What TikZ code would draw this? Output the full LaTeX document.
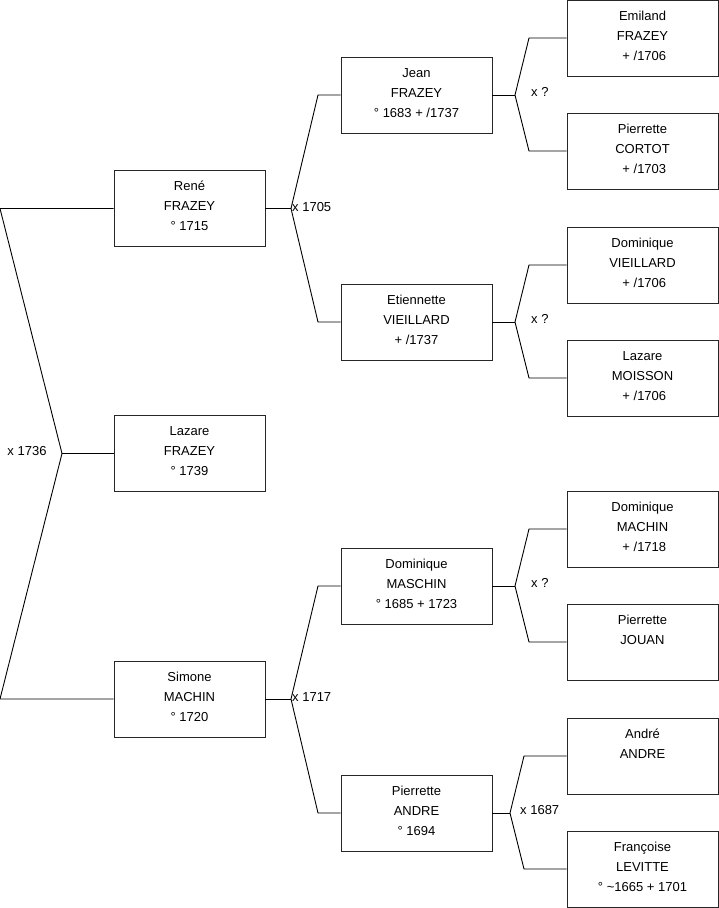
\documentclass[tikz,border=0pt]{standalone}
\usepackage{fontspec}
\setmainfont{Liberation Sans}
\newcommand\lstrut{\rule[-8pt]{0pt}{20pt}}
\newcommand\threelines[3]{\lstrut #1\\\lstrut #2\\\lstrut #3}
\begin{document}
\begin{tikzpicture}[x=1pt,y=-1pt,
  person/.style={draw=black!85, line width=0.9pt, rectangle, minimum width=151pt, minimum height=76pt,
    inner sep=0pt, align=center, font=\fontsize{13}{20}\selectfont},
  link/.style={draw=black, line width=0.9pt},
  mlabel/.style={font=\fontsize{13}{15}\selectfont, inner sep=0pt}]
\useasboundingbox (0,0) rectangle (719,908);

% generation 1
\node[person] (rene)   at (189.5,208.5) {\threelines{René}{FRAZEY}{° 1715}};
\node[person] (lazare) at (189.5,453.5) {\threelines{Lazare}{FRAZEY}{° 1739}};
\node[person] (simone) at (189.5,699)   {\threelines{Simone}{MACHIN}{° 1720}};

% generation 2
\node[person] (jean)   at (416.5,95)  {\threelines{Jean}{FRAZEY}{° 1683 + /1737}};
\node[person] (etien)  at (416.5,322) {\threelines{Etiennette}{VIEILLARD}{+ /1737}};
\node[person] (masch)  at (416.5,586) {\threelines{Dominique}{MASCHIN}{° 1685 + 1723}};
\node[person] (pandre) at (416.5,813) {\threelines{Pierrette}{ANDRE}{° 1694}};

% generation 3
\node[person] (emil)   at (642.5,38)  {\threelines{Emiland}{FRAZEY}{\ + /1706}};
\node[person] (cortot) at (642.5,151) {\threelines{Pierrette}{CORTOT}{\ + /1703}};
\node[person] (vieil)  at (642.5,265) {\threelines{Dominique}{VIEILLARD}{\ + /1706}};
\node[person] (moiss)  at (642.5,378) {\threelines{Lazare}{MOISSON}{\ + /1706}};
\node[person] (machin) at (642.5,529) {\threelines{Dominique}{MACHIN}{\ + /1718}};
\node[person] (jouan)  at (642.5,642) {\threelines{Pierrette}{JOUAN}{}};
\node[person] (andre)  at (642.5,756) {\threelines{André}{ANDRE}{}};
\node[person] (levit)  at (642.5,869) {\threelines{Françoise}{LEVITTE}{° \textasciitilde 1665 + 1701}};

% root couple
\coordinate (r1) at (0,208.5);
\coordinate (r2) at (0,699);
\coordinate (j0) at (62,453.5);
\draw[link] (rene.west) -- (r1) -- (j0) -- (r2) -- (simone.west);
\draw[link] (j0) -- (lazare.west);
\node[mlabel] (l0) at (27,451) {x 1736};

% René's parents
\coordinate (j1) at (291,208.5);
\coordinate (u1) at (318,95);
\coordinate (d1) at (318,322);
\draw[link] (rene.east) -- (j1);
\draw[link] (jean.west) -- (u1) -- (j1) -- (d1) -- (etien.west);
\node[mlabel, anchor=west] (l1) at (292,207) {x 1705};

% Simone's parents
\coordinate (j2) at (291,699);
\coordinate (u2) at (318,586);
\coordinate (d2) at (318,813);
\draw[link] (simone.east) -- (j2);
\draw[link] (masch.west) -- (u2) -- (j2) -- (d2) -- (pandre.west);
\node[mlabel, anchor=west] (l2) at (292,697) {x 1717};

% Jean's parents
\coordinate (j3) at (515,95);
\coordinate (u3) at (529,38);
\coordinate (d3) at (529,151);
\draw[link] (jean.east) -- (j3);
\draw[link] (emil.west) -- (u3) -- (j3) -- (d3) -- (cortot.west);
\node[mlabel, anchor=west] (l3) at (531,92) {x ?};

% Etiennette's parents
\coordinate (j4) at (515,322);
\coordinate (u4) at (529,265);
\coordinate (d4) at (529,378);
\draw[link] (etien.east) -- (j4);
\draw[link] (vieil.west) -- (u4) -- (j4) -- (d4) -- (moiss.west);
\node[mlabel, anchor=west] (l4) at (531,319) {x ?};

% Dominique MASCHIN's parents
\coordinate (j5) at (515,586);
\coordinate (u5) at (529,529);
\coordinate (d5) at (529,642);
\draw[link] (masch.east) -- (j5);
\draw[link] (machin.west) -- (u5) -- (j5) -- (d5) -- (jouan.west);
\node[mlabel, anchor=west] (l5) at (531,583) {x ?};

% Pierrette ANDRE's parents
\coordinate (j6) at (510,813);
\coordinate (u6) at (524,756);
\coordinate (d6) at (524,869);
\draw[link] (pandre.east) -- (j6);
\draw[link] (andre.west) -- (u6) -- (j6) -- (d6) -- (levit.west);
\node[mlabel, anchor=west] (l6) at (520,810) {x 1687};
\end{tikzpicture}
\end{document}
